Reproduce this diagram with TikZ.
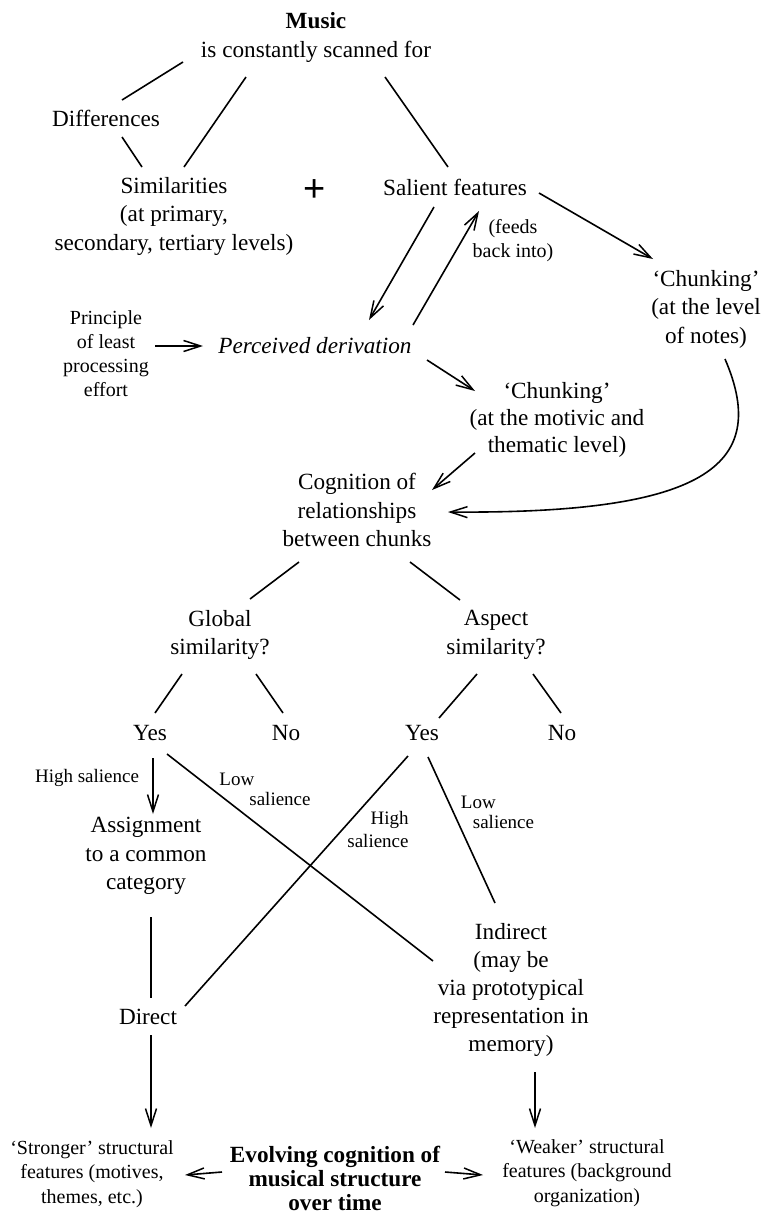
\documentclass[tikz,border=0pt]{standalone}
\usepackage{fontspec}
\setmainfont{Liberation Serif}
\newfontfamily\plusfont{Liberation Sans}
\usetikzlibrary{arrows.meta,calc}
\newcommand\fsz[2]{\fontsize{#1}{#2}\selectfont}
\begin{document}
\begin{tikzpicture}[x=1pt,y=-1pt,
  every node/.style={inner sep=0pt,outer sep=0pt,align=center},
  txt/.style={font=\fsz{23.2}{28.5}},
  smalltxt/.style={font=\fsz{20}{24}},
  lbl/.style={font=\fsz{19}{20}},
  link/.style={line width=1.6pt},
  arr/.style={line width=1.6pt,-{Straight Barb[length=17pt,width=11pt,line width=1.5pt]}},
]
\useasboundingbox (0,0) rectangle (761,1213);

% --- text blocks ---
\node[txt] (music) at (316,37.5) {\textbf{Music}\\is constantly scanned for};
\node[txt] (diff) at (106,118) {Differences};
\node[txt] (sim) at (174,216) {Similarities\\(at primary,\\secondary, tertiary levels)};
\node[font=\plusfont\fsz{38}{38}] (plus) at (315,191) {+};
\node[txt] (sal) at (455,187) {Salient features};
\node[txt] (chn) at (706,309) {‘Chunking’\\(at the level\\of notes)};
\node[smalltxt] (feeds) at (513,240.5) {(feeds\\back into)};
\node[smalltxt] (prin) at (106,353.5) {Principle\\of least\\processing\\effort};
\node[font=\fsz{23.2}{28.5}\itshape] (perc) at (315,346) {Perceived derivation};
\node[font=\fsz{23.2}{27}] (chm) at (557,420) {‘Chunking’\\(at the motivic and\\thematic level)};
\node[txt] (cog) at (357,510) {Cognition of\\relationships\\between chunks};
\node[txt] (glob) at (220,635) {Global\\similarity?};
\node[txt] (asp) at (496,635) {Aspect\\similarity?};
\node[txt] (yes1) at (150,733) {Yes};
\node[txt] (no1) at (286,733) {No};
\node[txt] (yes2) at (422,733) {Yes};
\node[txt] (no2) at (562,733) {No};
\node[lbl] (hs1) at (87,778) {High salience};
\node[lbl,align=left] (ls1) at (265,789) {Low\\\hspace*{30pt}salience};
\node[font=\fsz{19}{23},align=right] (hs2) at (378,829.5) {High\\salience};
\node[lbl,align=left] (ls2) at (497.5,812.5) {Low\\\hspace*{12pt}salience};
\node[txt] (asg) at (146,856) {Assignment\\to a common\\category};
\node[txt] (dir) at (148,1017) {Direct};
\node[font=\fsz{23.2}{28}] (ind) at (511,990) {Indirect\\(may be\\via prototypical\\representation in\\memory)};
\node[font=\fsz{20}{24.5}] (strong) at (92,1174) {‘Stronger’ structural\\features (motives,\\themes, etc.)};
\node[font=\fsz{23.2}{24}\bfseries] (evol) at (335,1178) {Evolving cognition of\\musical structure\\over time};
\node[font=\fsz{20}{24.5}] (weak) at (587,1173) {‘Weaker’ structural\\features (background\\organization)};

% --- plain links ---
\draw[link] ([shift={(-133,24.5)}]music.center) -- ([shift={(16,-18)}]diff.center);
\draw[link] ([shift={(-70,39.5)}]music.center) -- ([shift={(10,-49)}]sim.center);
\draw[link] ([shift={(16,19)}]diff.center) -- ([shift={(-32,-49)}]sim.center);
\draw[link] ([shift={(69,39.5)}]music.center) -- ([shift={(-7,-20)}]sal.center);
\draw[link] ([shift={(-58,52)}]cog.center) -- ([shift={(30,-36)}]glob.center);
\draw[link] ([shift={(53,52)}]cog.center) -- ([shift={(-36,-35)}]asp.center);
\draw[link] ([shift={(-38,39)}]glob.center) -- ([shift={(5,-20)}]yes1.center);
\draw[link] ([shift={(36,39)}]glob.center) -- ([shift={(-3,-20)}]no1.center);
\draw[link] ([shift={(-19,39)}]asp.center) -- ([shift={(17,-15)}]yes2.center);
\draw[link] ([shift={(37,39)}]asp.center) -- ([shift={(-1,-20)}]no2.center);
\draw[link] ([shift={(17,21)}]yes1.center) -- ([shift={(-78,-29)}]ind.center);
\draw[link] ([shift={(-14,23)}]yes2.center) -- ([shift={(37,-11)}]dir.center);
\draw[link] ([shift={(6,24)}]yes2.center) -- ([shift={(-16,-87)}]ind.center);
\draw[link] ([shift={(5,61)}]asg.center) -- ([shift={(3,-19)}]dir.center);

% --- arrows ---
\draw[arr] ([shift={(84,6)}]sal.center) -- ([shift={(-53,-50)}]chn.center);
\draw[arr] ([shift={(-21,20)}]sal.center) -- ([shift={(54,-26)}]perc.center);
\draw[arr] ([shift={(98,-21)}]perc.center) -- ([shift={(24,24)}]sal.center);
\draw[arr] ([shift={(49,-7.5)}]prin.center) -- ([shift={(-112,0)}]perc.center);
\draw[arr] ([shift={(112,14)}]perc.center) -- ([shift={(-82,-29)}]chm.center);
\draw[arr] ([shift={(-82,33)}]chm.center) -- ([shift={(75,-20)}]cog.center);
\draw[arr] ([shift={(19,50)}]chn.center) .. controls (772,468) and (700,514) .. ([shift={(91,2)}]cog.center);
\draw[arr] ([shift={(3,25)}]yes1.center) -- ([shift={(7,-42)}]asg.center);
\draw[arr] ([shift={(3,18)}]dir.center) -- ([shift={(59,-46)}]strong.center);
\draw[arr] ([shift={(24,82)}]ind.center) -- ([shift={(-52,-45)}]weak.center);
\draw[arr] ([shift={(-113,-6)}]evol.center) -- ([shift={(93,1)}]strong.center);
\draw[arr] ([shift={(110,-6)}]evol.center) -- ([shift={(-104,2)}]weak.center);
\end{tikzpicture}
\end{document}
